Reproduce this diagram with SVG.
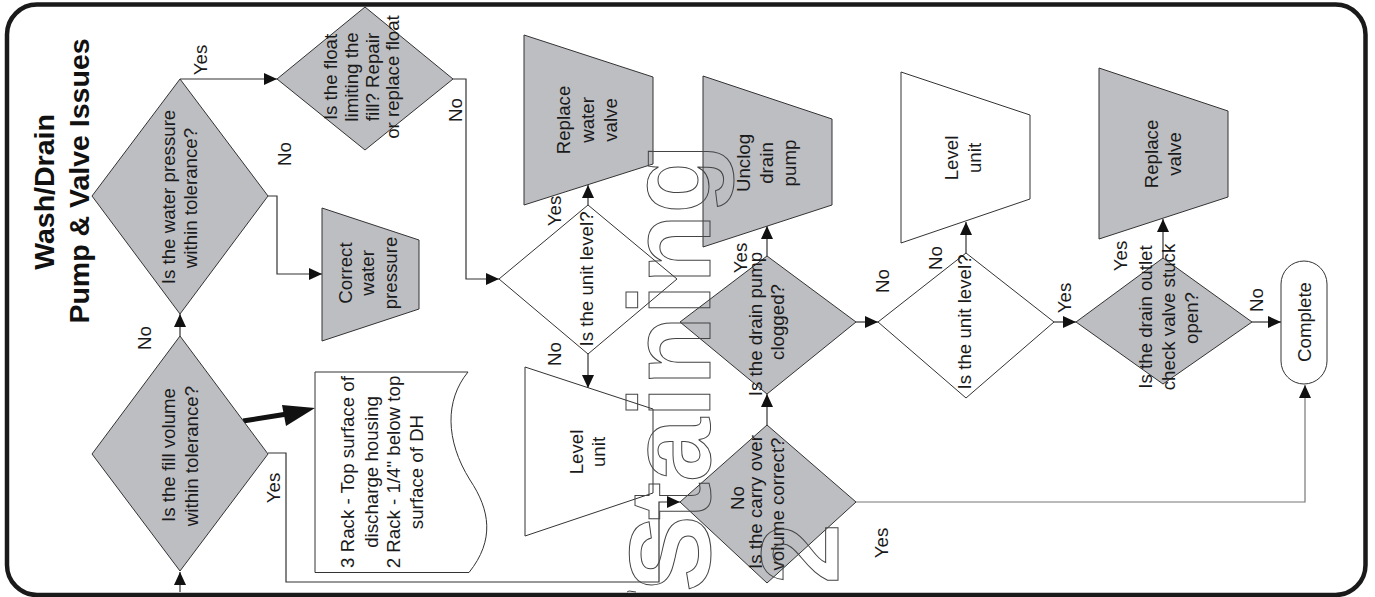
<svg xmlns="http://www.w3.org/2000/svg" width="1375" height="597" viewBox="0 0 1375 597">
<style>
text{font-family:"Liberation Sans",Arial,sans-serif;font-size:18.7px;fill:#1a1a1a;text-anchor:middle}
.t{font-size:28.5px;font-weight:bold;fill:#111}
.o{font-weight:bold;fill:none;stroke:#444;stroke-width:1;text-anchor:start}
.g{fill:#bdbec2;stroke:#333;stroke-width:1}
.w{fill:#fff;stroke:#333;stroke-width:1}
.c{fill:none;stroke:#333;stroke-width:1.2}
</style>
<defs>
<marker id="a" markerUnits="userSpaceOnUse" markerWidth="14" markerHeight="14" refX="13" refY="6.5" orient="auto"><path d="M0 0.5L13 6.5L0 12.5Z" fill="#111"/></marker>
</defs>
<rect width="1375" height="597" fill="#fff"/>
<rect x="7" y="4.5" width="1358.5" height="590.5" rx="30" ry="30" fill="none" stroke="#1a1a1a" stroke-width="4.5"/>
<g id="title"><text class="t" transform="translate(54,192) rotate(-90)">Wash/Drain</text><text class="t" transform="translate(89,181) rotate(-90)">Pump &amp; Valve Issues</text></g>
<g id="connectors">
<path class="c" d="M180 592V572" marker-end="url(#a)"/>
<path class="c" d="M180 336V314" marker-end="url(#a)"/>
<path class="c" d="M180 79H277" marker-end="url(#a)"/>
<path class="c" d="M268 196H277V274H322" marker-end="url(#a)"/>
<path class="c" d="M453 79H466V279H499" marker-end="url(#a)"/>
<path d="M243 421L287 414" stroke="#111" stroke-width="5" fill="none"/><path d="M282 405L315 408L286 426Z" fill="#111"/>
<path class="c" d="M268 453H286V582H659V502H680" marker-end="url(#a)"/>
<path class="c" d="M588 205V185" marker-end="url(#a)"/>
<path class="c" d="M588 354V388" marker-end="url(#a)"/>
<path class="c" d="M767 425V394" marker-end="url(#a)"/>
<path class="c" d="M767 256V226" marker-end="url(#a)"/>
<path class="c" d="M856 322H878" marker-end="url(#a)"/>
<path class="c" d="M966 253V222" marker-end="url(#a)"/>
<path class="c" d="M1054 322H1076" marker-end="url(#a)"/>
<path class="c" d="M1163 258V219" marker-end="url(#a)"/>
<path class="c" d="M1252 322H1281" marker-end="url(#a)"/>
<path d="M856 502H1305V385" fill="none" stroke="#777" stroke-width="1.2" marker-end="url(#a)"/>
</g>
<g id="n-pressure-q"><polygon class="g" points="92,196 180,79 268,196 180,314"/><text transform="translate(175,197) rotate(-90)">Is the water pressure</text><text transform="translate(197,198) rotate(-90)">within tolerance?</text></g>
<g id="n-float"><polygon class="g" points="277,79 365,7 453,79 365,150"/><text transform="translate(337,77) rotate(-90)">Is the float</text><text transform="translate(358,77) rotate(-90)">limiting the</text><text transform="translate(379,77) rotate(-90)">fill? Repair</text><text transform="translate(399,77) rotate(-90)">or replace float</text></g>
<g id="n-pressure"><polygon class="g" points="322,208 419,240 419,309 322,341"/><text transform="translate(352,273) rotate(-90)">Correct</text><text transform="translate(374,273) rotate(-90)">water</text><text transform="translate(397,273) rotate(-90)">pressure</text></g>
<g id="n-volume"><polygon class="g" points="92,454 180,336 268,454 180,571"/><text transform="translate(175,455) rotate(-90)">Is the fill volume</text><text transform="translate(198,456) rotate(-90)">within tolerance?</text></g>
<g id="n-rack"><path class="w" d="M315 372H468C445 400 445 440 470 480C490 510 495 540 469 572.5H315Z"/><text transform="translate(354,472) rotate(-90)">3 Rack - Top surface of</text><text transform="translate(378,472) rotate(-90)">discharge housing</text><text transform="translate(400,472) rotate(-90)">2 Rack - 1/4" below top</text><text transform="translate(423,472) rotate(-90)">surface of DH</text></g>
<g id="n-replace1"><polygon class="g" points="524,35 653,77 653,164 524,205"/><text transform="translate(570,120) rotate(-90)">Replace</text><text transform="translate(594,120) rotate(-90)">water</text><text transform="translate(617,120) rotate(-90)">valve</text></g>
<g id="n-level1"><polygon class="w" points="499,279 588,205 677,279 588,354"/><text transform="translate(593,279) rotate(-90)">Is the unit level?</text></g>
<g id="n-unclog"><polygon class="g" points="703,76 832,119 832,205 703,247"/><text transform="translate(750,163) rotate(-90)">Unclog</text><text transform="translate(773,163) rotate(-90)">drain</text><text transform="translate(796,163) rotate(-90)">pump</text></g>
<g id="n-drain"><polygon class="g" points="680,322 767,256 856,322 767,394"/><text transform="translate(762,324) rotate(-90)">Is the drain pump</text><text transform="translate(784,322) rotate(-90)">clogged?</text></g>
<g id="n-level2"><polygon class="w" points="525,367 653,409 653,493 525,536"/><text transform="translate(583,452) rotate(-90)">Level</text><text transform="translate(605,452) rotate(-90)">unit</text></g>
<g id="n-carry"><polygon class="g" points="680,502 767,425 856,502 767,583"/><text transform="translate(744,498) rotate(-90)">No</text><text transform="translate(762,502) rotate(-90)">Is the carry over</text><text transform="translate(784,504) rotate(-90)">volume correct?</text></g>
<g id="n-level3"><polygon class="w" points="878,322 966,253 1054,322 966,398"/><text transform="translate(971,322) rotate(-90)">Is the unit level?</text></g>
<g id="n-levelunit"><polygon class="w" points="901,72 1030,115 1030,199 901,243"/><text transform="translate(958,158) rotate(-90)">Level</text><text transform="translate(981,158) rotate(-90)">unit</text></g>
<g id="n-check"><polygon class="g" points="1076,322 1163,258 1252,322 1163,384"/><text transform="translate(1152,317) rotate(-90)">Is the drain outlet</text><text transform="translate(1175,317) rotate(-90)">check valve stuck</text><text transform="translate(1198,318) rotate(-90)">open?</text></g>
<g id="n-replace2"><polygon class="g" points="1099,68 1228,111 1228,197 1099,239"/><text transform="translate(1158,154) rotate(-90)">Replace</text><text transform="translate(1181,154) rotate(-90)">valve</text></g>
<g id="n-complete"><rect class="w" x="1281" y="261" width="46" height="123" rx="23"/><text transform="translate(1311,322) rotate(-90)">Complete</text></g>
<g id="labels">
<text transform="translate(207,60) rotate(-90)">Yes</text>
<text transform="translate(291,154) rotate(-90)">No</text>
<text transform="translate(151,338) rotate(-90)">No</text>
<text transform="translate(280,488) rotate(-90)">Yes</text>
<text transform="translate(462,110) rotate(-90)">No</text>
<text transform="translate(561,211) rotate(-90)">Yes</text>
<text transform="translate(561,354) rotate(-90)">No</text>
<text transform="translate(747,258) rotate(-90)">Yes</text>
<text transform="translate(889,281) rotate(-90)">No</text>
<text transform="translate(942,258) rotate(-90)">No</text>
<text transform="translate(1071,298) rotate(-90)">Yes</text>
<text transform="translate(1127,256) rotate(-90)">Yes</text>
<text transform="translate(1263,300) rotate(-90)">No</text>
<text transform="translate(888,543) rotate(-90)">Yes</text>
</g>
<g id="watermark">
<text class="o" transform="translate(710,592) rotate(-90)" dx="0 -5" style="font-size:115px">Staining</text>
<text class="o" transform="translate(838,584) rotate(-90)" style="font-size:109px">2</text>
<path d="M627 592L629 591L636 592" fill="none" stroke="#444"/>
</g>
</svg>
